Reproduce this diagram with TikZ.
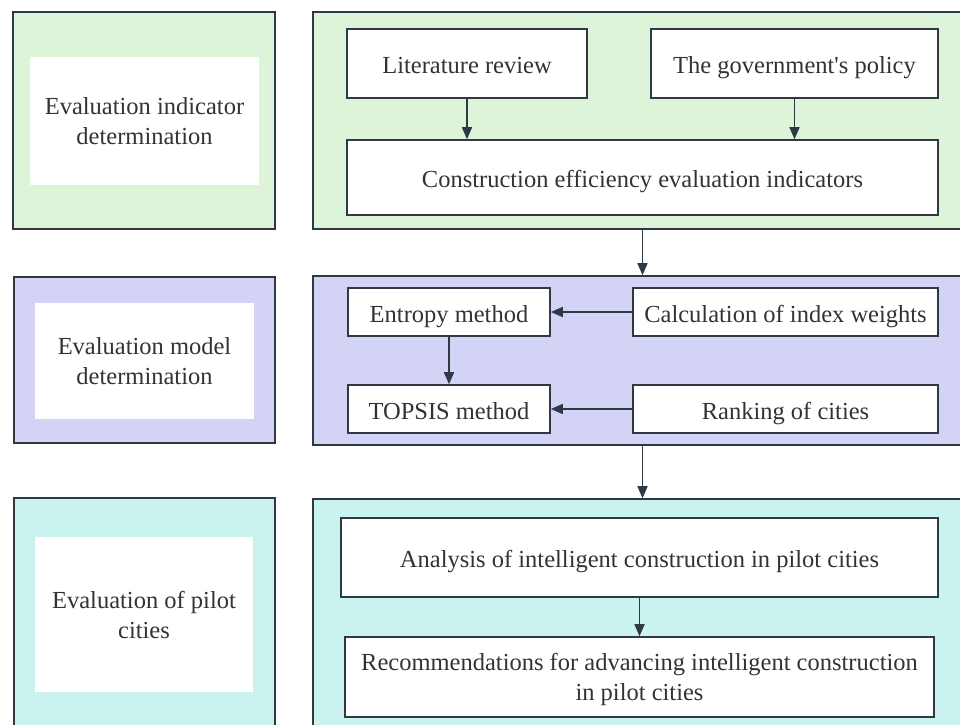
\documentclass[tikz,border=0pt]{standalone}
\usepackage{fontspec}
\setmainfont{Liberation Serif}
\usetikzlibrary{arrows.meta}
\definecolor{edgec}{HTML}{2E3944}
\definecolor{txtc}{HTML}{333333}
\definecolor{greenbg}{HTML}{DEF4D9}
\definecolor{bluebg}{HTML}{D2D3F5}
\definecolor{cyanbg}{HTML}{CAF2EF}
\tikzset{
  panel/.style={draw=edgec, line width=1.6pt, inner sep=0pt},
  label box/.style={fill=white, draw=none, inner sep=0pt, text=txtc, align=center},
  stepbox/.style={draw=edgec, fill=white, line width=1.6pt, inner sep=0pt, text=txtc, align=center},
  oneline/.style={text height=20pt, text depth=0pt},
  arr/.style={draw=edgec, line width=1.6pt, -{Triangle[length=12pt,width=10pt]}},
  % box given by its size: width/height in pt
  sz/.style 2 args={minimum width=#1pt, minimum height=#2pt},
}
\begin{document}
\begin{tikzpicture}[x=1pt, y=-1pt, font=\fontsize{24.5}{30}\selectfont]
\useasboundingbox (0,0) rectangle (960,724);
\clip (0,0) rectangle (960,724);

% stage 1: indicators
\node (l1) [panel, fill=greenbg, sz={262}{217}] at (144,120.5) {};
\node (t1) [label box, sz={229}{128}] at (144.5,121) {Evaluation indicator\\determination};
\node (p1) [panel, fill=greenbg, sz={667}{217}] at (646.5,120.5) {};
\node (lit) [stepbox, oneline, sz={240}{69}] at (467,63.5) {Literature review};
\node (gov) [stepbox, oneline, sz={287}{69}] at (794.5,63.5) {The government\textquotesingle s policy};
\node (cons) [stepbox, oneline, sz={591}{75}] at (642.5,177.5) {Construction efficiency evaluation indicators};

% stage 2: model
\node (l2) [panel, fill=bluebg, sz={261}{166}] at (144.5,360) {};
\node (t2) [label box, sz={219}{116}] at (144.5,361) {Evaluation model\\determination};
\node (p2) [panel, fill=bluebg, sz={667}{169}] at (646.5,360.5) {};
\node (ent) [stepbox, oneline, sz={202}{48}] at (449,312) {Entropy method};
\node (calc) [stepbox, oneline, sz={305}{48}] at (785.5,312) {Calculation of index weights};
\node (top) [stepbox, oneline, sz={202}{48}] at (449,409) {TOPSIS method};
\node (rank) [stepbox, oneline, sz={305}{48}] at (785.5,409) {Ranking of cities};

% stage 3: pilot cities
\node (l3) [panel, fill=cyanbg, sz={261}{242}] at (144.5,619) {};
\node (t3) [label box, sz={218}{155}] at (144,614.5) {Evaluation of pilot\\cities};
\node (p3) [panel, fill=cyanbg, sz={667}{241}] at (646.5,619.5) {};
\node (ana) [stepbox, oneline, sz={597}{79}] at (639.5,557.5) {Analysis of intelligent construction in pilot cities};
\node (rec) [stepbox, text depth=0pt, sz={589}{80}] at (639.5,677) {Recommendations for advancing intelligent construction\\in pilot cities};

% connectors
\draw[arr] (lit) -- (lit |- cons.north);
\draw[arr] (gov) -- (gov |- cons.north);
\draw[arr] (cons |- p1.south) -- (cons |- p2.north);
\draw[arr] (calc) -- (ent);
\draw[arr] (ent) -- (top);
\draw[arr] (rank) -- (top);
\draw[arr] (cons |- p2.south) -- (cons |- p3.north);
\draw[arr] (ana) -- (rec);
\end{tikzpicture}
\end{document}
